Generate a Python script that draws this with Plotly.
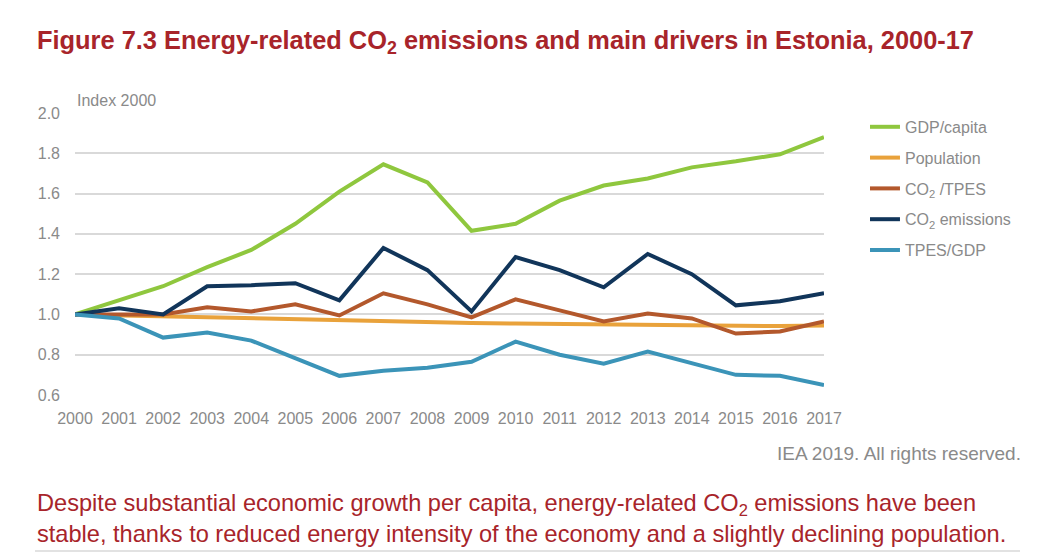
import plotly.graph_objects as go

years = list(range(2000, 2018))
gdp_capita = [1.0, 1.07, 1.14, 1.235, 1.32, 1.45, 1.61, 1.745, 1.655, 1.415, 1.45, 1.565, 1.64, 1.675, 1.73, 1.76, 1.795, 1.88]
population = [1.0, 0.995, 0.99, 0.985, 0.98, 0.975, 0.97, 0.965, 0.96, 0.958, 0.955, 0.953, 0.95, 0.948, 0.945, 0.943, 0.942, 0.945]
co2_tpes = [1.0, 1.0, 1.0, 1.035, 1.015, 1.05, 0.995, 1.105, 1.05, 0.985, 1.075, 1.02, 0.965, 1.005, 0.98, 0.905, 0.915, 0.965]
co2_emissions = [1.0, 1.03, 1.0, 1.14, 1.145, 1.155, 1.07, 1.33, 1.22, 1.015, 1.285, 1.22, 1.135, 1.30, 1.20, 1.045, 1.065, 1.105]
tpes_gdp = [1.0, 0.98, 0.885, 0.91, 0.87, 0.785, 0.695, 0.72, 0.735, 0.765, 0.865, 0.80, 0.755, 0.815, 0.755, 0.70, 0.695, 0.65]

series = [
    ("GDP/capita", gdp_capita, "#8fc73e"),
    ("Population", population, "#e9a23b"),
    ("CO<sub>2</sub> /TPES", co2_tpes, "#b3582c"),
    ("CO<sub>2</sub> emissions", co2_emissions, "#11355a"),
    ("TPES/GDP", tpes_gdp, "#3b94b8"),
]

FONT = "Liberation Sans Narrow, Arial Narrow, Liberation Sans, Arial, sans-serif"
RED = "#a8242a"
GRAY = "#8a8a8a"

fig = go.Figure()
for i, (name, vals, color) in enumerate(series):
    fig.add_trace(go.Scatter(x=years, y=vals, name=name, mode="lines",
                             legendgroup="g%d" % i,
                             line=dict(color=color, width=4)))

fig.update_layout(
    width=1059, height=553,
    margin=dict(l=67, r=243, t=105, b=166),
    paper_bgcolor="white", plot_bgcolor="white",
    showlegend=True,
    legend=dict(x=1.0547, y=1.011, xanchor="left", yanchor="top",
                font=dict(family=FONT, size=16, color=GRAY),
                itemwidth=30, tracegroupgap=7, bgcolor="rgba(0,0,0,0)"),
    xaxis=dict(range=[2000, 2017], tickmode="array", tickvals=years,
               ticktext=[str(y) for y in years], showgrid=False,
               tickfont=dict(family=FONT, size=16, color=GRAY),
               showline=False, zeroline=False, ticks="", automargin=False,
               ticklabelstandoff=12),
    yaxis=dict(range=[0.6, 2.0], tickvals=[0.6, 0.8, 1.0, 1.2, 1.4, 1.6, 1.8, 2.0],
               ticktext=["0.6", "0.8", "1.0", "1.2", "1.4", "1.6", "1.8", "2.0"],
               showgrid=True, gridcolor="#d9d9d9", gridwidth=1.5,
               tickfont=dict(family=FONT, size=16, color=GRAY),
               zeroline=False, showline=False, ticklabelstandoff=14,
               automargin=False),
)

fig.add_annotation(xref="paper", yref="paper", x=0.0, y=1.0, yshift=2,
                   xanchor="left", yanchor="bottom", text="Index 2000",
                   showarrow=False, font=dict(family=FONT, size=16, color=GRAY))

fig.add_annotation(xref="paper", yref="paper", x=-0.0534, y=1.0, yshift=53,
                   xanchor="left", yanchor="bottom",
                   text="<b>Figure 7.3 Energy-related CO<sub>2</sub> emissions and main drivers in Estonia, 2000-17</b>",
                   showarrow=False, font=dict(family=FONT, size=25.4, color=RED))

fig.add_annotation(xref="paper", yref="paper", x=1.2657, y=0.0, yshift=-46,
                   xanchor="right", yanchor="top", text="IEA 2019. All rights reserved.",
                   showarrow=False, font=dict(family=FONT, size=19, color=GRAY))

fig.add_annotation(xref="paper", yref="paper", x=-0.0534, y=0.0, yshift=-123.5,
                   xanchor="left", yanchor="middle", align="left",
                   text="Despite substantial economic growth per capita, energy-related CO<sub>2</sub> emissions have been<br>stable, thanks to reduced energy intensity of the economy and a slightly declining population.",
                   showarrow=False, font=dict(family=FONT, size=23.6, color=RED))

fig.add_shape(type="line", xref="paper", yref="paper", x0=-0.0534, x1=1.2617,
              y0=-0.553, y1=-0.553, line=dict(color="#d9d9d9", width=1.5))

fig.write_html("out.html")
